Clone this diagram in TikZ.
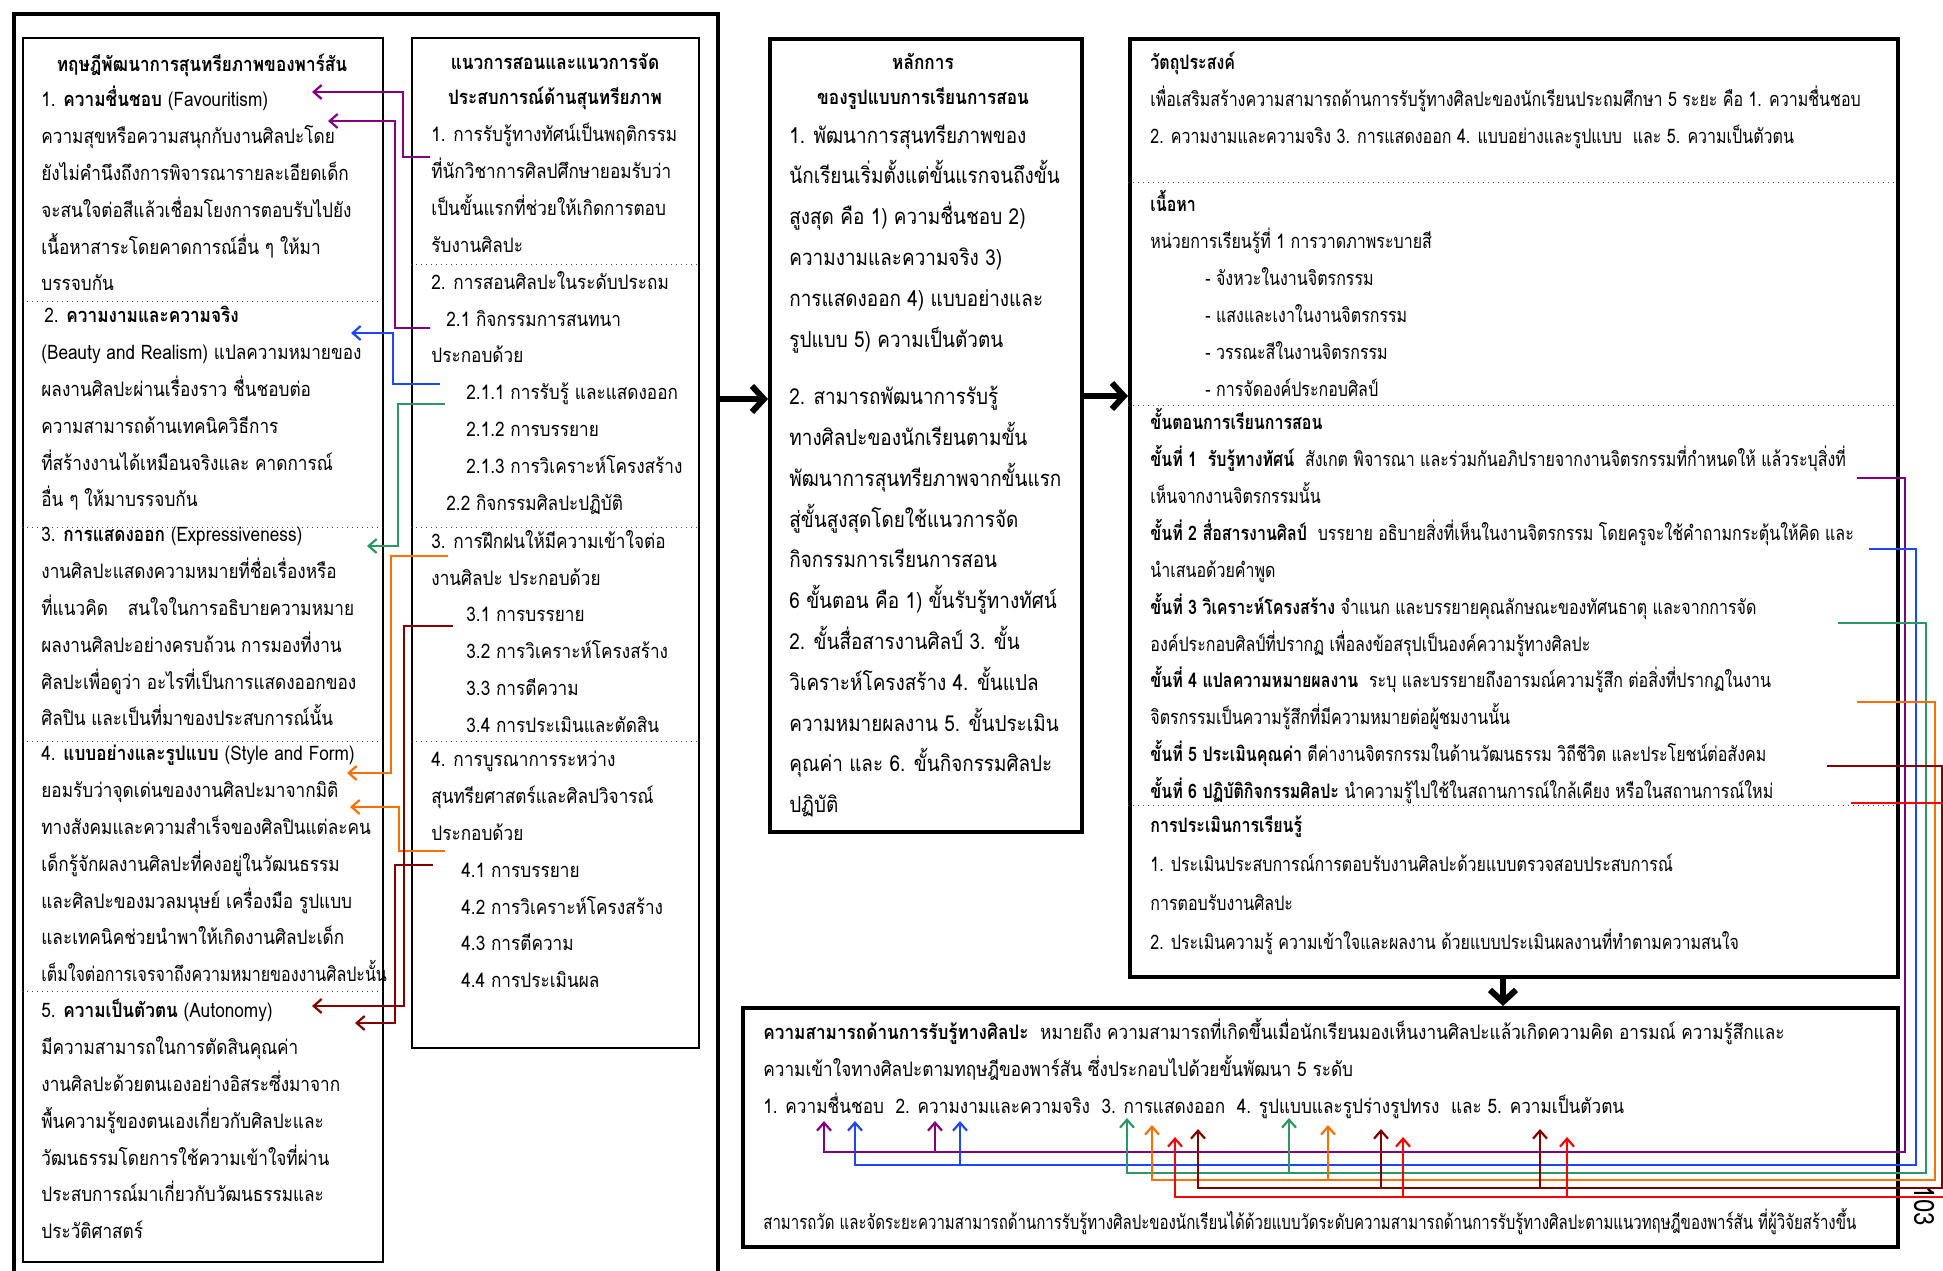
\documentclass[tikz,border=0pt]{standalone}
\usepackage{fontspec}
\setmainfont[Script=Thai,FakeStretch=0.86]{Loma}
\newfontfamily\thainarrow[Script=Thai,FakeStretch=0.8]{Loma}
\newfontfamily\thaitight[Script=Thai,FakeStretch=0.75]{Loma}
\usepackage{tikz}
\usetikzlibrary{arrows.meta}
\definecolor{lnPurple}{RGB}{128,0,128}
\definecolor{lnBlue}{RGB}{30,70,255}
\definecolor{lnGreen}{RGB}{46,150,100}
\definecolor{lnOrange}{RGB}{255,110,0}
\definecolor{lnDarkRed}{RGB}{128,0,0}
\definecolor{lnRed}{RGB}{255,0,0}
\tikzset{ColBox/.style={%
    draw=black,%
    line width=1.2pt,%
    inner sep=0pt,%
    anchor=north west,%
}}
\tikzset{HeavyBox/.style={%
    draw=black,%
    line width=2.2pt,%
    inner sep=0pt,%
    anchor=north west,%
}}
\tikzset{SepLine/.style={%
    dotted,%
    line width=0.5pt,%
    draw=black!70,%
}}
\tikzset{BodyText/.style={%
    anchor=north west,%
    inner sep=0pt,%
    align=left,%
    font=\fontsize{10}{18.4}\selectfont,%
    execute at begin node=\rule{0pt}{1.3em},%
}}
\tikzset{HeadText/.style={%
    anchor=north,%
    inner sep=0pt,%
    align=center,%
    font=\fontsize{10}{17.5}\selectfont\bfseries,%
    execute at begin node=\rule{0pt}{1.3em},%
}}
\tikzset{WideText/.style={%
    BodyText,%
    font=\fontsize{11}{20.4}\selectfont,%
}}
\tikzset{NarrowText/.style={%
    BodyText,%
    font=\thainarrow\fontsize{10}{18.45}\selectfont,%
}}
\tikzset{LinkArrow/.style={%
    -{Straight Barb[length=4pt,width=7pt]},%
    line width=1.1pt,%
}}
\tikzset{BigArrow/.style={%
    -{Straight Barb[length=6pt,width=13pt]},%
    line width=3pt,%
}}

\begin{document}
\begin{tikzpicture}[x=0.5pt,y=-0.5pt]
    \useasboundingbox (0,0) rectangle (1943,1270);

    % boxes
    \node[HeavyBox, minimum width=352pt, minimum height=650pt] (frame) at (12,12) {};
    \node[ColBox, minimum width=180pt, minimum height=612pt] (col1) at (22,37) {};
    \node[ColBox, minimum width=143.5pt, minimum height=505pt] (col2) at (411,37) {};
    \node[HeavyBox, minimum width=156pt, minimum height=396.5pt] (mid) at (768,37) {};
    \node[HeavyBox, minimum width=384pt, minimum height=469pt] (plan) at (1128,37) {};
    \node[HeavyBox, minimum width=577.5pt, minimum height=119.5pt] (abil) at (741,1006) {};

    % dotted rows
    \foreach \yy in {301,527,741,991}
        \draw[SepLine] (22,\yy) -- (382,\yy);
    \foreach \yy in {264,527,741}
        \draw[SepLine] (411,\yy) -- (698,\yy);
    \foreach \yy in {182,405,805}
        \draw[SepLine] (1128,\yy) -- (1896,\yy);

    % left column
    \node[HeadText] (t1) at (202,45) {ทฤษฎีพัฒนาการสุนทรียภาพของพาร์สัน};
    \node[BodyText] (p1) at (41,86) {1. \textbf{ความชื่นชอบ} (Favouritism)\\
        ความสุขหรือความสนุกกับงานศิลปะโดย\\
        ยังไม่คำนึงถึงการพิจารณารายละเอียดเด็ก\\
        จะสนใจต่อสีแล้วเชื่อมโยงการตอบรับไปยัง\\
        เนื้อหาสาระโดยคาดการณ์อื่น ๆ ให้มา\\
        บรรจบกัน};
    \node[BodyText] (p2) at (44,306) {2. \textbf{ความงามและความจริง}\\
        \hspace*{-1.5pt}(Beauty and Realism) แปลความหมายของ\\
        \hspace*{-1.5pt}ผลงานศิลปะผ่านเรื่องราว ชื่นชอบต่อ\\
        \hspace*{-1.5pt}ความสามารถด้านเทคนิควิธีการ\\
        \hspace*{-1.5pt}ที่สร้างงานได้เหมือนจริงและ คาดการณ์\\
        \hspace*{-1.5pt}อื่น ๆ ให้มาบรรจบกัน};
    \node[BodyText] (p3) at (41,527) {3. \textbf{การแสดงออก} (Expressiveness)\\
        งานศิลปะแสดงความหมายที่ชื่อเรื่องหรือ\\
        ที่แนวคิด\quad สนใจในการอธิบายความหมาย\\
        ผลงานศิลปะอย่างครบถ้วน การมองที่งาน\\
        ศิลปะเพื่อดูว่า อะไรที่เป็นการแสดงออกของ\\
        ศิลปิน และเป็นที่มาของประสบการณ์นั้น};
    \node[BodyText] (p4) at (41,745) {4. \textbf{แบบอย่างและรูปแบบ} (Style and Form)\\
        ยอมรับว่าจุดเด่นของงานศิลปะมาจากมิติ\\
        ทางสังคมและความสำเร็จของศิลปินแต่ละคน\\
        เด็กรู้จักผลงานศิลปะที่คงอยู่ในวัฒนธรรม\\
        และศิลปะของมวลมนุษย์ เครื่องมือ รูปแบบ\\
        และเทคนิคช่วยนำพาให้เกิดงานศิลปะเด็ก\\
        {\thainarrow เต็มใจต่อการเจรจาถึงความหมายของงานศิลปะนั้น}};
    \node[BodyText] (p5) at (41,999) {5. \textbf{ความเป็นตัวตน} (Autonomy)\\
        มีความสามารถในการตัดสินคุณค่า\\
        งานศิลปะด้วยตนเองอย่างอิสระซึ่งมาจาก\\
        พื้นความรู้ของตนเองเกี่ยวกับศิลปะและ\\
        วัฒนธรรมโดยการใช้ความเข้าใจที่ผ่าน\\
        ประสบการณ์มาเกี่ยวกับวัฒนธรรมและ\\
        ประวัติศาสตร์};

    % second column
    \node[HeadText] (t2) at (555,53) {แนวการสอนและแนวการจัด\\ประสบการณ์ด้านสุนทรียภาพ};
    \node[BodyText] (q1) at (431,123) {1. การรับรู้ทางทัศน์เป็นพฤติกรรม\\
        ที่นักวิชาการศิลปศึกษายอมรับว่า\\
        เป็นขั้นแรกที่ช่วยให้เกิดการตอบ\\
        รับงานศิลปะ};
    \node[BodyText] (q2) at (431,271) {2. การสอนศิลปะในระดับประถม\\
        \hspace*{7.5pt}2.1 กิจกรรมการสนทนา\\
        ประกอบด้วย\\
        \hspace*{17.5pt}2.1.1 การรับรู้ และแสดงออก\\
        \hspace*{17.5pt}2.1.2 การบรรยาย\\
        \hspace*{17.5pt}2.1.3 การวิเคราะห์โครงสร้าง\\
        \hspace*{7.5pt}2.2 กิจกรรมศิลปะปฏิบัติ};
    \node[BodyText] (q3) at (431,530) {3. การฝึกฝนให้มีความเข้าใจต่อ\\
        งานศิลปะ ประกอบด้วย\\
        \hspace*{17.5pt}3.1 การบรรยาย\\
        \hspace*{17.5pt}3.2 การวิเคราะห์โครงสร้าง\\
        \hspace*{17.5pt}3.3 การตีความ\\
        \hspace*{17.5pt}3.4 การประเมินและตัดสิน};
    \node[BodyText] (q4) at (431,751) {4. การบูรณาการระหว่าง\\
        สุนทรียศาสตร์และศิลปวิจารณ์\\
        ประกอบด้วย\\
        \hspace*{15pt}4.1 การบรรยาย\\
        \hspace*{15pt}4.2 การวิเคราะห์โครงสร้าง\\
        \hspace*{15pt}4.3 การตีความ\\
        \hspace*{15pt}4.4 การประเมินผล};

    % middle box
    \node[HeadText] (t3) at (923,53) {หลักการ\\ของรูปแบบการเรียนการสอน};
    \node[WideText] (m1) at (789,124) {1. พัฒนาการสุนทรียภาพของ\\
        นักเรียนเริ่มตั้งแต่ขั้นแรกจนถึงขั้น\\
        สูงสุด คือ 1) ความชื่นชอบ 2)\\
        ความงามและความจริง 3)\\
        การแสดงออก 4) แบบอย่างและ\\
        รูปแบบ 5) ความเป็นตัวตน};
    \node[WideText] (m2) at (789,386) {2. สามารถพัฒนาการรับรู้\\
        ทางศิลปะของนักเรียนตามขั้น\\
        พัฒนาการสุนทรียภาพจากขั้นแรก\\
        สู่ขั้นสูงสุดโดยใช้แนวการจัด\\
        กิจกรรมการเรียนการสอน\\
        6 ขั้นตอน คือ 1) ขั้นรับรู้ทางทัศน์\\
        2. ขั้นสื่อสารงานศิลป์ 3. ขั้น\\
        วิเคราะห์โครงสร้าง 4. ขั้นแปล\\
        ความหมายผลงาน 5. ขั้นประเมิน\\
        คุณค่า และ 6. ขั้นกิจกรรมศิลปะ\\
        ปฏิบัติ};

    % right box
    \node[NarrowText] (r1) at (1150,52) {\textbf{วัตถุประสงค์}\\
        เพื่อเสริมสร้างความสามารถด้านการรับรู้ทางศิลปะของนักเรียนประถมศึกษา 5 ระยะ คือ 1. ความชื่นชอบ\\
        2. ความงามและความจริง 3. การแสดงออก 4. แบบอย่างและรูปแบบ\ \ และ 5. ความเป็นตัวตน};
    \node[NarrowText] (r2) at (1150,190) {\textbf{เนื้อหา}\\
        หน่วยการเรียนรู้ที่ 1 การวาดภาพระบายสี\\
        \hspace*{27.5pt}- จังหวะในงานจิตรกรรม\\
        \hspace*{27.5pt}- แสงและเงาในงานจิตรกรรม\\
        \hspace*{27.5pt}- วรรณะสีในงานจิตรกรรม\\
        \hspace*{27.5pt}- การจัดองค์ประกอบศิลป์};
    \node[NarrowText] (r3) at (1150,408) {\textbf{ขั้นตอนการเรียนการสอน}\\
        \textbf{ขั้นที่ 1\ \ รับรู้ทางทัศน์}\ \ สังเกต พิจารณา และร่วมกันอภิปรายจากงานจิตรกรรมที่กำหนดให้ แล้วระบุสิ่งที่\\
        เห็นจากงานจิตรกรรมนั้น\\
        \textbf{ขั้นที่ 2 สื่อสารงานศิลป์}\ \ บรรยาย อธิบายสิ่งที่เห็นในงานจิตรกรรม โดยครูจะใช้คำถามกระตุ้นให้คิด และ\\
        นำเสนอด้วยคำพูด\\
        \textbf{ขั้นที่ 3 วิเคราะห์โครงสร้าง} จำแนก และบรรยายคุณลักษณะของทัศนธาตุ และจากการจัด\\
        องค์ประกอบศิลป์ที่ปรากฏ เพื่อลงข้อสรุปเป็นองค์ความรู้ทางศิลปะ\\
        \textbf{ขั้นที่ 4 แปลความหมายผลงาน}\ \ ระบุ และบรรยายถึงอารมณ์ความรู้สึก ต่อสิ่งที่ปรากฏในงาน\\
        จิตรกรรมเป็นความรู้สึกที่มีความหมายต่อผู้ชมงานนั้น\\
        \textbf{ขั้นที่ 5 ประเมินคุณค่า} ตีค่างานจิตรกรรมในด้านวัฒนธรรม วิถีชีวิต และประโยชน์ต่อสังคม\\
        \textbf{ขั้นที่ 6 ปฏิบัติกิจกรรมศิลปะ} นำความรู้ไปใช้ในสถานการณ์ใกล้เคียง หรือในสถานการณ์ใหม่};
    \node[NarrowText, font=\thainarrow\fontsize{10}{19.5}\selectfont] (r4) at (1150,815) {\textbf{การประเมินการเรียนรู้}\\
        1. ประเมินประสบการณ์การตอบรับงานศิลปะด้วยแบบตรวจสอบประสบการณ์\\
        การตอบรับงานศิลปะ\\
        2. ประเมินความรู้ ความเข้าใจและผลงาน ด้วยแบบประเมินผลงานที่ทำตามความสนใจ};

    % bottom box
    \node[BodyText] (b1) at (763,1018) {\textbf{ความสามารถด้านการรับรู้ทางศิลปะ}\ \ หมายถึง ความสามารถที่เกิดขึ้นเมื่อนักเรียนมองเห็นงานศิลปะแล้วเกิดความคิด อารมณ์ ความรู้สึกและ\\
        ความเข้าใจทางศิลปะตามทฤษฎีของพาร์สัน ซึ่งประกอบไปด้วยขั้นพัฒนา 5 ระดับ\\
        1. ความชื่นชอบ\ \ 2. ความงามและความจริง\ \ 3. การแสดงออก\ \ 4. รูปแบบและรูปร่างรูปทรง\ \ และ 5. ความเป็นตัวตน};
    \node[BodyText, font=\thaitight\fontsize{10}{18.4}\selectfont] (b2) at (763,1203) {สามารถวัด และจัดระยะความสามารถด้านการรับรู้ทางศิลปะของนักเรียนได้ด้วยแบบวัดระดับความสามารถด้านการรับรู้ทางศิลปะตามแนวทฤษฎีของพาร์สัน ที่ผู้วิจัยสร้างขึ้น};

    \node[rotate=-90, inner sep=0pt, font=\fontsize{14}{14}\selectfont] (pageno) at (1924,1206) {103};

    % big arrows
    \coordinate (rowA) at (0,399);
    \coordinate (rowB) at (0,396);
    \coordinate (colC) at (1503,0);
    \draw[BigArrow] (frame.east |- rowA) -- (mid.west |- rowA);
    \draw[BigArrow] (mid.east |- rowB) -- (plan.west |- rowB);
    \draw[BigArrow] (plan.south -| colC) -- (abil.north -| colC);

    % links from teaching approach to Parsons stages
    \coordinate (s1) at (430,157);  \coordinate (e1) at (312,92);
    \coordinate (s2) at (430,328);  \coordinate (e2) at (328,121);
    \coordinate (s3) at (440,384);  \coordinate (e3) at (351,333);
    \coordinate (s4) at (445,404);  \coordinate (e4) at (367,546);
    \coordinate (s5) at (448,556);  \coordinate (e5) at (347,773);
    \coordinate (s6) at (445,851);  \coordinate (e6) at (350,807);
    \coordinate (s7) at (453,626);  \coordinate (e7) at (312,1006);
    \coordinate (s8) at (433,865);  \coordinate (e8) at (355,1023);
    \draw[LinkArrow, lnPurple] (s1) -- ++(-27,0) |- (e1);
    \draw[LinkArrow, lnPurple] (s2) -- ++(-35,0) |- (e2);
    \draw[LinkArrow, lnBlue] (s3) -- ++(-47,0) |- (e3);
    \draw[LinkArrow, lnGreen] (s4) -- ++(-47,0) |- (e4);
    \draw[LinkArrow, lnOrange] (s5) -- ++(-57,0) |- (e5);
    \draw[LinkArrow, lnOrange] (s6) -- ++(-46,0) |- (e6);
    \draw[LinkArrow, lnDarkRed] (s7) -- ++(-49,0) |- (e7);
    \draw[LinkArrow, lnDarkRed] (s8) -- ++(-38,0) |- (e8);

    % links from teaching steps to perception levels
    \coordinate (k1) at (1857,478);
    \coordinate (k2) at (1869,549);
    \coordinate (k3) at (1838,623);
    \coordinate (k4) at (1857,702);
    \coordinate (k5) at (1827,766);
    \coordinate (k6) at (1851,803);
    \draw[LinkArrow, lnPurple] (k1) -| (1905,1152) -| (824,1121);
    \draw[LinkArrow, lnPurple] (935,1152) -- (935,1121);
    \draw[LinkArrow, lnBlue] (k2) -| (1916,1165) -| (855,1121);
    \draw[LinkArrow, lnBlue] (960,1165) -- (960,1121);
    \draw[LinkArrow, lnGreen] (k3) -| (1926,1173) -| (1127,1118);
    \draw[LinkArrow, lnGreen] (1289,1173) -- (1289,1118);
    \draw[LinkArrow, lnOrange] (k4) -| (1935,1180) -| (1152,1125);
    \draw[LinkArrow, lnOrange] (1328,1180) -- (1328,1125);
    \draw[LinkArrow, lnDarkRed] (k5) -| (1942,1188) -| (1198,1129);
    \draw[LinkArrow, lnDarkRed] (1381,1188) -- (1381,1129);
    \draw[LinkArrow, lnDarkRed] (1540,1188) -- (1540,1129);
    \draw[LinkArrow, lnRed] (k6) -| (1952,1197) -| (1175,1137);
    \draw[LinkArrow, lnRed] (1403,1197) -- (1403,1137);
    \draw[LinkArrow, lnRed] (1567,1197) -- (1567,1137);
\end{tikzpicture}
\end{document}
